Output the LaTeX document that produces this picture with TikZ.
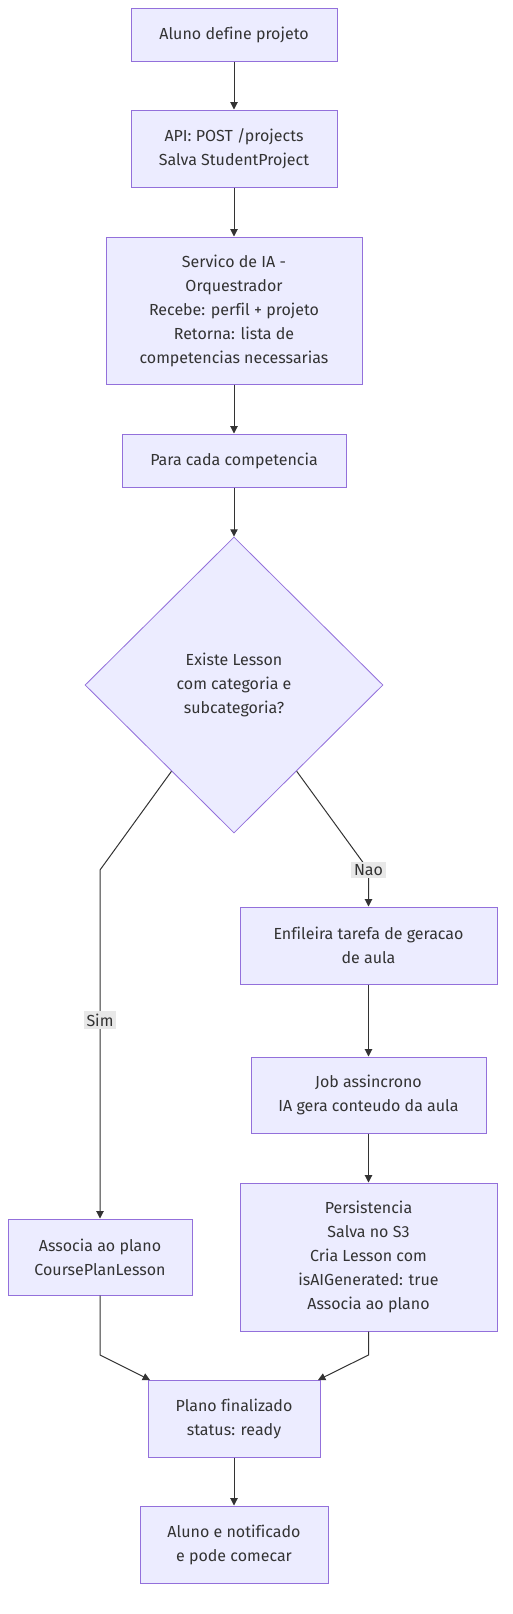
\documentclass[tikz,border=0pt]{standalone}
\usepackage{fontspec}
\setmainfont[Ligatures=NoCommon]{Fira Sans}
\usetikzlibrary{shapes.geometric}
\usetikzlibrary{arrows.meta}

\definecolor{boxfill}{HTML}{ECECFF}
\definecolor{boxline}{HTML}{9370DB}
\definecolor{ink}{HTML}{333333}
\definecolor{lblfill}{HTML}{E8E8E8}

\begin{document}
\begin{tikzpicture}[x=0.75pt, y=-0.75pt,
	box/.style={rectangle,draw=boxline,fill=boxfill,line width=0.75pt,inner sep=0pt,align=center,text=ink,font=\fontsize{12}{18}\selectfont},
	decision/.style={diamond,draw=boxline,fill=boxfill,line width=0.6pt,inner sep=0pt,align=center,text=ink,font=\fontsize{12}{18}\selectfont},
	lbl/.style={rectangle,fill=lblfill,inner sep=2pt,text=ink,font=\fontsize{12}{14}\selectfont},
	arr/.style={draw=ink,line width=0.75pt,-{Triangle[length=5.5pt,width=5.5pt]}}]
	\useasboundingbox (0, 0) rectangle (513, 1614);
	
	\node [box,minimum width=154.5pt,minimum height=39.75pt] (aluno) at (234, 34.5) {Aluno define projeto};
	\node [box,minimum width=154.5pt,minimum height=57.75pt] (api) at (234, 148.5) {API: POST /projects\\Salva StudentProject};
	\node [box,minimum width=192pt,minimum height=110.25pt] (servico) at (234, 310.5) {Servico de IA -\\Orquestrador\\Recebe: perfil + projeto\\Retorna: lista de\\competencias necessarias};
	\node [box,minimum width=168pt,minimum height=39.75pt] (paracada) at (234, 460.5) {Para cada competencia};
	\node [decision,minimum width=223.5pt,minimum height=222pt] (existe) at (234, 685) {Existe Lesson\\com categoria e\\subcategoria?};
	
	\node [box,minimum width=192.75pt,minimum height=57.75pt] (enfileira) at (368.5, 945.5) {Enfileira tarefa de geracao\\de aula};
	\node [box,minimum width=176.25pt,minimum height=57pt] (job) at (368.5, 1095) {Job assincrono\\IA gera conteudo da aula};
	\node [box,minimum width=192.75pt,minimum height=111pt] (persist) at (368.5, 1257) {Persistencia\\Salva no S3\\Cria Lesson com\\isAIGenerated: true\\Associa ao plano};
	\node [box,minimum width=138pt,minimum height=57pt] (associa) at (100, 1257) {Associa ao plano\\CoursePlanLesson};
	
	\node [box,minimum width=129pt,minimum height=57.75pt] (plano) at (234, 1418.5) {Plano finalizado\\status: ready};
	\node [box,minimum width=141pt,minimum height=57.75pt] (final) at (234, 1544.5) {Aluno e notificado\\e pode comecar};
	
	\coordinate (simturn) at (100, 870);
	\coordinate (naoturn) at (368.5, 870);
	\coordinate (assocdown) at (100, 1355);
	\coordinate (persdown) at (368.5, 1355);
	\coordinate (planoleft) at (150, 1380);
	\coordinate (planoright) at (318, 1380);
	
	\draw [arr] (aluno) -- (api);
	\draw [arr] (api) -- (servico);
	\draw [arr] (servico) -- (paracada);
	\draw [arr] (paracada) -- (existe);
	
	\draw [arr] (existe) -- (simturn) -- node [lbl,pos=0.43] {Sim} (associa);
	\draw [arr] (existe) -- (naoturn) node [lbl] {Nao} -- (enfileira);
	\draw [arr] (enfileira) -- (job);
	\draw [arr] (job) -- (persist);
	
	\draw [arr] (associa) -- (assocdown) -- (planoleft);
	\draw [arr] (persist) -- (persdown) -- (planoright);
	\draw [arr] (plano) -- (final);
\end{tikzpicture}
\end{document}
